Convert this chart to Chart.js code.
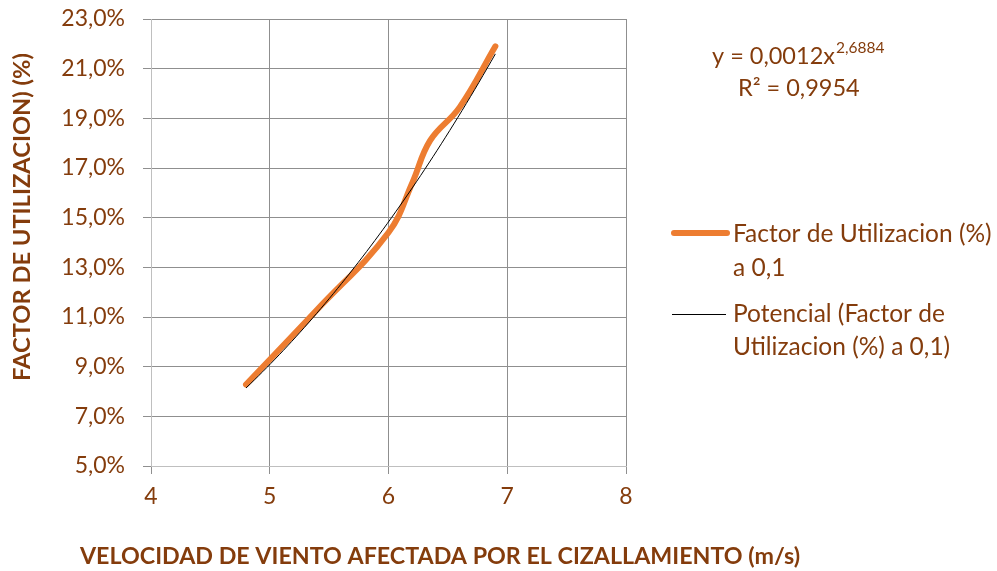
<!DOCTYPE html>
<html>
<head>
<meta charset="utf-8">
<script src="https://cdn.jsdelivr.net/npm/chart.js@4/dist/chart.umd.min.js"></script>
<style>
  html, body { margin: 0; padding: 0; background: #fff; }
  #wrap { width: 997px; height: 571px; position: relative; }
</style>
</head>
<body>
<div id="wrap"><canvas id="c" width="997" height="571"></canvas></div>
<script>
// Wind speed affected by shear (m/s) and utilisation factor (%) at 0,1
const windSpeed = [4.80, 5.40, 6.00, 6.20, 6.35, 6.60, 6.90];
const utilFactor = [8.28, 11.30, 14.40, 16.40, 18.10, 19.45, 21.90];

// Power trendline coefficients: y = a·x^b (fraction), shown as %
const trendA = 0.0012;
const trendB = 2.6884;
const trendLabel = ['y = 0,0012x', '2,6884'];
const r2Label = 'R² = 0,9954';

const xTicks = [4, 5, 6, 7, 8];
const yTicks = [5, 7, 9, 11, 13, 15, 17, 19, 21, 23];

const seriesName = ['Factor de Utilizacion (%)', 'a 0,1'];
const trendName = ['Potencial (Factor de', 'Utilizacion (%) a 0,1)'];
const xTitle = 'VELOCIDAD DE VIENTO AFECTADA POR EL CIZALLAMIENTO (m/s)';
const yTitle = 'FACTOR DE UTILIZACION) (%)';

const BROWN = '#843C0C';
const ORANGE = '#ED7D31';
const FONT = 'Lato, "Open Sans", sans-serif';

const trendPts = [];
for (let i = 0; i <= 60; i++) {
  const x = windSpeed[0] + (windSpeed[windSpeed.length - 1] - windSpeed[0]) * i / 60;
  trendPts.push({ x: x, y: 100 * trendA * Math.pow(x, trendB) });
}

// pick a bold font size so that the text spans the given width
function fitBold(ctx, text, width) {
  ctx.font = 'bold 20px ' + FONT;
  const size = 20 * width / ctx.measureText(text).width;
  ctx.font = 'bold ' + size.toFixed(2) + 'px ' + FONT;
}

const overlay = {
  id: 'overlay',
  afterDraw(chart) {
    const ctx = chart.ctx;
    ctx.save();
    ctx.fillStyle = BROWN;
    ctx.textBaseline = 'middle';

    // axis titles
    ctx.textAlign = 'center';
    fitBold(ctx, xTitle, 720);
    ctx.fillText(xTitle, 440, 556);
    fitBold(ctx, yTitle, 328);
    ctx.save();
    ctx.translate(22, 217);
    ctx.rotate(-Math.PI / 2);
    ctx.fillText(yTitle, 0, 0);
    ctx.restore();

    // trendline equation
    ctx.textAlign = 'left';
    ctx.font = '23.5px ' + FONT;
    ctx.fillText(trendLabel[0], 712, 56);
    const w = ctx.measureText(trendLabel[0]).width;
    ctx.font = '15.5px ' + FONT;
    ctx.fillText(trendLabel[1], 712 + w + 1, 48);
    ctx.font = '23.5px ' + FONT;
    ctx.fillText(r2Label, 738, 88);

    // legend
    ctx.font = '24.5px ' + FONT;
    ctx.fillText(seriesName[0], 733, 234);
    ctx.fillText(seriesName[1], 733, 268);
    ctx.fillText(trendName[0], 733, 314);
    ctx.fillText(trendName[1], 733, 347);
    ctx.lineCap = 'round';
    ctx.strokeStyle = ORANGE;
    ctx.lineWidth = 6;
    ctx.beginPath(); ctx.moveTo(674, 233); ctx.lineTo(727, 233); ctx.stroke();
    ctx.lineCap = 'butt';
    ctx.strokeStyle = '#000';
    ctx.lineWidth = 1;
    ctx.beginPath(); ctx.moveTo(672, 314.5); ctx.lineTo(726, 314.5); ctx.stroke();
    ctx.restore();
  }
};

new Chart(document.getElementById('c'), {
  type: 'scatter',
  data: {
    datasets: [
      {
        label: seriesName.join(' '),
        data: windSpeed.map((x, i) => ({ x: x, y: utilFactor[i] })),
        showLine: true,
        borderColor: ORANGE,
        borderWidth: 6,
        borderCapStyle: 'round',
        pointRadius: 0,
        tension: 0.4,
        order: 2
      },
      {
        label: trendName.join(' '),
        data: trendPts,
        showLine: true,
        borderColor: '#000',
        borderWidth: 1,
        pointRadius: 0,
        tension: 0,
        order: 1
      }
    ]
  },
  options: {
    responsive: false,
    animation: false,
    layout: { padding: { left: 0, right: 371, top: 19, bottom: 0 } },
    plugins: { legend: { display: false }, tooltip: { enabled: false } },
    scales: {
      x: {
        type: 'linear', min: 4, max: 8,
        afterBuildTicks: (s) => { s.ticks = xTicks.map(v => ({ value: v })); },
        afterFit: (s) => { s.height = 105; s.paddingLeft = 0; s.paddingRight = 0; },
        grid: { color: '#8f8f8f', tickLength: 8, tickColor: '#8f8f8f' },
        border: { color: '#bfbfbf' },
        ticks: { color: BROWN, font: { family: FONT, size: 23 }, padding: 9 }
      },
      y: {
        type: 'linear', min: 5, max: 23,
        afterBuildTicks: (s) => { s.ticks = yTicks.map(v => ({ value: v })); },
        afterFit: (s) => { s.width = 151; s.paddingTop = 0; s.paddingBottom = 0; },
        grid: { color: '#8f8f8f', tickLength: 8, tickColor: '#8f8f8f' },
        border: { color: '#bfbfbf' },
        ticks: {
          color: BROWN, font: { family: FONT, size: 23 }, padding: 18,
          callback: (v) => v.toFixed(1).replace('.', ',') + '%'
        }
      }
    }
  },
  plugins: [overlay]
});
</script>
</body>
</html>
